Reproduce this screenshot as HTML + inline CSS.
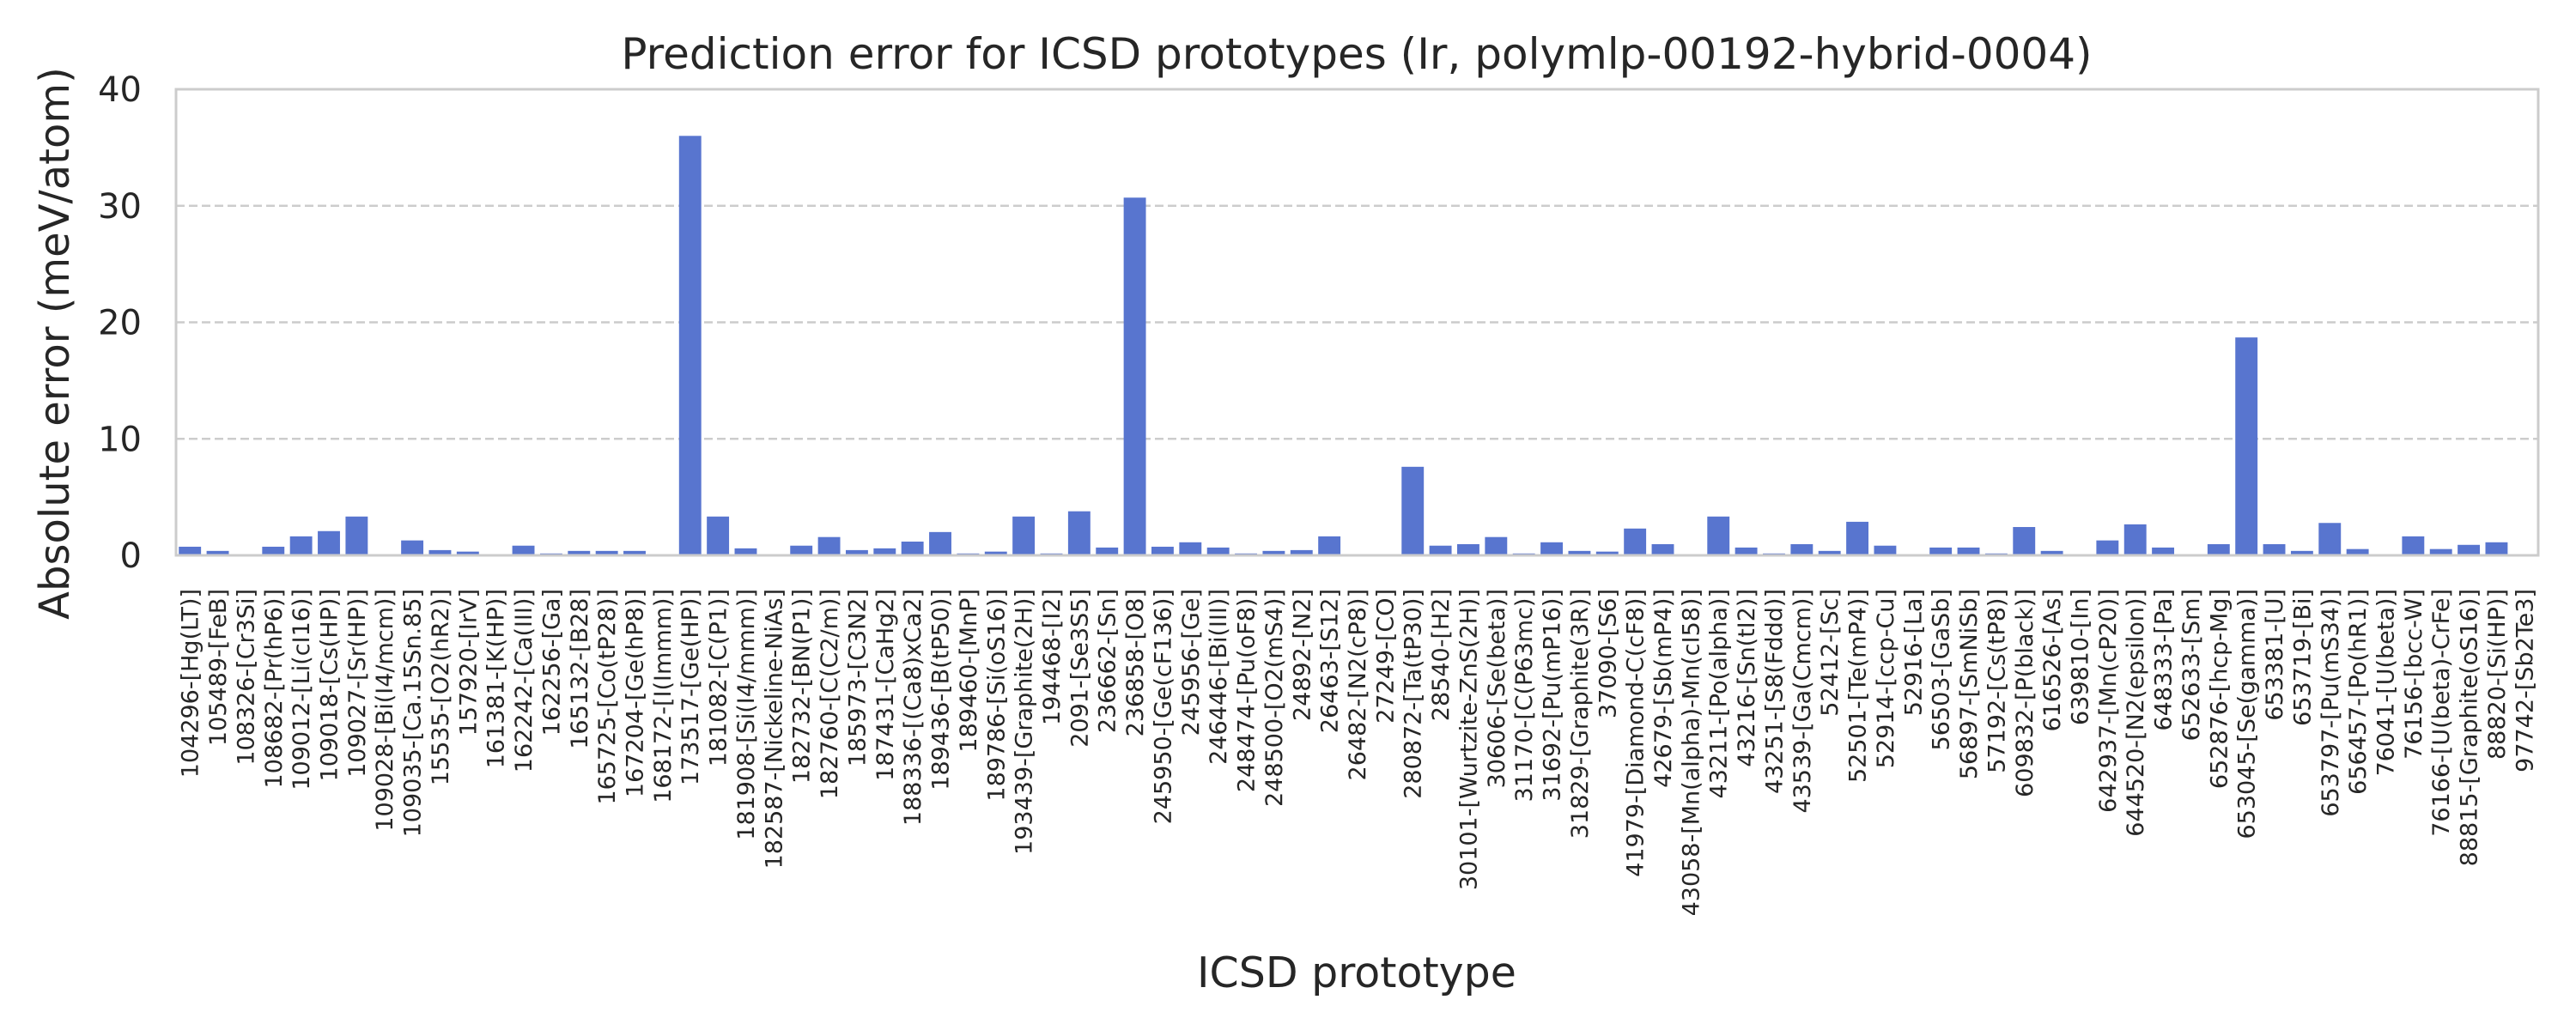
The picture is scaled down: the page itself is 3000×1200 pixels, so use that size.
<!DOCTYPE html>
<html><head><meta charset="utf-8">
<style>
html,body{margin:0;padding:0;background:#fff;}
svg{display:block;font-family:"DejaVu Sans","Liberation Sans",sans-serif;}
</style></head>
<body>
<svg id="chart" width="3000" height="1200" viewBox="0 0 3000 1200" xmlns="http://www.w3.org/2000/svg">
<rect x="0" y="0" width="3000" height="1200" fill="#fff"/>
<text x="1580" y="80" font-size="50" text-anchor="middle" fill="#262626">Prediction error for ICSD prototypes (Ir, polymlp-00192-hybrid-0004)</text>
<g id="grid"></g>
<g id="bars"></g>
<rect x="205" y="104" width="2751" height="543" fill="none" stroke="#cccccc" stroke-width="3"/>
<g id="yticks"></g>
<g id="xticks"></g>
<text transform="translate(80,400) rotate(-90)" font-size="48" text-anchor="middle" fill="#262626">Absolute error (meV/atom)</text>
<text x="1580" y="1150" font-size="49" text-anchor="middle" fill="#262626">ICSD prototype</text>
</svg>
<script>
const categories = ["104296-[Hg(LT)]","105489-[FeB]","108326-[Cr3Si]","108682-[Pr(hP6)]","109012-[Li(cI16)]","109018-[Cs(HP)]","109027-[Sr(HP)]","109028-[Bi(I4/mcm)]","109035-[Ca.15Sn.85]","15535-[O2(hR2)]","157920-[IrV]","161381-[K(HP)]","162242-[Ca(III)]","162256-[Ga]","165132-[B28]","165725-[Co(tP28)]","167204-[Ge(hP8)]","168172-[I(Immm)]","173517-[Ge(HP)]","181082-[C(P1)]","181908-[Si(I4/mmm)]","182587-[Nickeline-NiAs]","182732-[BN(P1)]","182760-[C(C2/m)]","185973-[C3N2]","187431-[CaHg2]","188336-[(Ca8)xCa2]","189436-[B(tP50)]","189460-[MnP]","189786-[Si(oS16)]","193439-[Graphite(2H)]","194468-[I2]","2091-[Se3S5]","236662-[Sn]","236858-[O8]","245950-[Ge(cF136)]","245956-[Ge]","246446-[Bi(III)]","248474-[Pu(oF8)]","248500-[O2(mS4)]","24892-[N2]","26463-[S12]","26482-[N2(cP8)]","27249-[CO]","280872-[Ta(tP30)]","28540-[H2]","30101-[Wurtzite-ZnS(2H)]","30606-[Se(beta)]","31170-[C(P63mc)]","31692-[Pu(mP16)]","31829-[Graphite(3R)]","37090-[S6]","41979-[Diamond-C(cF8)]","42679-[Sb(mP4)]","43058-[Mn(alpha)-Mn(cI58)]","43211-[Po(alpha)]","43216-[Sn(tI2)]","43251-[S8(Fddd)]","43539-[Ga(Cmcm)]","52412-[Sc]","52501-[Te(mP4)]","52914-[ccp-Cu]","52916-[La]","56503-[GaSb]","56897-[SmNiSb]","57192-[Cs(tP8)]","609832-[P(black)]","616526-[As]","639810-[In]","642937-[Mn(cP20)]","644520-[N2(epsilon)]","648333-[Pa]","652633-[Sm]","652876-[hcp-Mg]","653045-[Se(gamma)]","653381-[U]","653719-[Bi]","653797-[Pu(mS34)]","656457-[Po(hR1)]","76041-[U(beta)]","76156-[bcc-W]","76166-[U(beta)-CrFe]","88815-[Graphite(oS16)]","88820-[Si(HP)]","97742-[Sb2Te3]"];
const errors = [0.74,0.38,0.05,0.74,1.63,2.08,3.33,0.02,1.28,0.45,0.32,0.1,0.83,0.16,0.38,0.38,0.38,0.1,36.0,3.33,0.6,0.02,0.83,1.57,0.45,0.6,1.18,2.0,0.16,0.32,3.33,0.16,3.78,0.67,30.7,0.74,1.12,0.67,0.16,0.38,0.45,1.63,0.02,0.02,7.6,0.83,0.96,1.57,0.16,1.12,0.38,0.32,2.3,0.96,0.02,3.33,0.67,0.16,0.96,0.38,2.88,0.83,0.1,0.67,0.67,0.16,2.43,0.38,0.1,1.28,2.66,0.67,0.02,0.96,18.7,0.96,0.38,2.78,0.54,0.02,1.63,0.54,0.9,1.12,0.02];
const yTicks = [0,10,20,30,40];

const NS = "http://www.w3.org/2000/svg";
const L = 205, R = 2956, T = 104, B = 647, YMAX = 40;
const band = (R - L) / categories.length;
function xScale(i){ return L + band * (i + 0.5); }
function yScale(v){ return B - (v / YMAX) * (B - T); }
function mk(tag, attrs, parent){ const e = document.createElementNS(NS, tag); for (const k in attrs) e.setAttribute(k, attrs[k]); parent.appendChild(e); return e; }

const grid = document.getElementById('grid');
const yt = document.getElementById('yticks');
yTicks.forEach(v => {
  const y = yScale(v);
  if (v > 0 && v < YMAX) {
    const g = mk('line', {x1:L, x2:R, y1:y, y2:y, stroke:'#cccccc', 'stroke-width':2.5, 'stroke-dasharray':'10,5'}, grid);
    
    
  }
  const t = mk('text', {x:165, y:y+14, 'font-size':40, 'text-anchor':'end', fill:'#262626'}, yt);
  t.textContent = v;
  
  
});

const bars = document.getElementById('bars');
const xt = document.getElementById('xticks');
const bw = band * 0.8;
categories.forEach((c, i) => {
  const v = errors[i];
  const y = yScale(v);
  const r = mk('rect', {x:xScale(i) - bw/2, y:y, width:bw, height:Math.max(0, B - y), fill:'#5875cf'}, bars);
  
  
  const t = mk('text', {transform:'translate(' + (xScale(i) + 9.5) + ',686) rotate(-90)', 'font-size':27, 'text-anchor':'end', fill:'#262626'}, xt);
  t.textContent = c;
  
  
});
</script>
</body></html>
